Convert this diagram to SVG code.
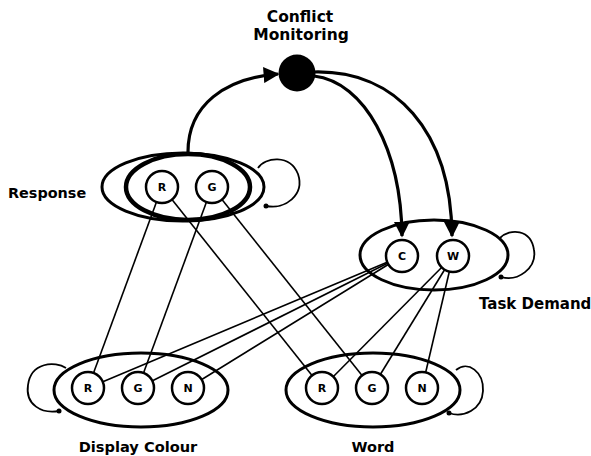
<svg xmlns="http://www.w3.org/2000/svg" width="591" height="456" viewBox="0 0 591 456">
<style>
.lbl{font-family:"DejaVu Sans",sans-serif;font-weight:bold;fill:#000}
.u{font-family:"DejaVu Sans",sans-serif;font-weight:bold;font-size:11px;fill:#000;text-anchor:middle}
.ell{fill:none;stroke:#000;stroke-width:3}
.unit{fill:#fff;stroke:#000;stroke-width:2.5}
.loop{fill:none;stroke:#000;stroke-width:1.8}
.ln{stroke:#000;stroke-width:1.6;fill:none}
.arr{stroke:#000;stroke-width:3.2;fill:none}
</style>
<defs>
<marker id="ah" viewBox="0 0 10 10" refX="9" refY="5" markerWidth="5" markerHeight="5" orient="auto" markerUnits="strokeWidth">
<path d="M0,0 L10,5 L0,10 z" fill="#000"/>
</marker>
</defs>
<rect width="591" height="456" fill="#fff"/>
<g id="connectors">
<line class="ln" x1="162" y1="187" x2="88" y2="388"/>
<line class="ln" x1="162" y1="187" x2="322" y2="388"/>
<line class="ln" x1="212" y1="187" x2="138" y2="388"/>
<line class="ln" x1="212" y1="187" x2="372" y2="388"/>
<line class="ln" x1="402" y1="256" x2="88" y2="388"/>
<line class="ln" x1="402" y1="256" x2="138" y2="388"/>
<line class="ln" x1="402" y1="256" x2="188" y2="388"/>
<line class="ln" x1="453" y1="256" x2="322" y2="388"/>
<line class="ln" x1="453" y1="256" x2="372" y2="388"/>
<line class="ln" x1="453" y1="256" x2="422" y2="388"/>
<path class="arr" d="M188,152 C188,105 225,78 278,74" marker-end="url(#ah)"/>
<path class="arr" d="M314,76 C365,82 401,150 402,236" marker-end="url(#ah)"/>
<path class="arr" d="M314,72 C395,70 451,130 452,236" marker-end="url(#ah)"/>
</g>
<g id="conflict">
<circle cx="297" cy="73" r="18.5" fill="#000"/>
<text class="lbl" x="300" y="22" font-size="15.5" text-anchor="middle">Conflict</text>
<text class="lbl" x="301" y="40" font-size="15.5" text-anchor="middle">Monitoring</text>
</g>
<g id="response">
<path class="loop" d="M258,168 C265,157 290,154 298,174 C305,195 285,210 266,206"/>
<circle cx="266" cy="206" r="2.5"/>
<ellipse class="ell" cx="183" cy="187" rx="81" ry="34"/>
<ellipse cx="188" cy="187" rx="62" ry="33" fill="none" stroke="#000" stroke-width="4.5"/>
<circle class="unit" cx="162" cy="187" r="16"/>
<text class="u" x="162" y="191">R</text>
<circle class="unit" cx="212" cy="187" r="16"/>
<text class="u" x="212" y="191">G</text>
<text class="lbl" x="8" y="198" font-size="14.4">Response</text>
</g>
<g id="task">
<path class="loop" d="M500,238 C510,228 531,229 534,250 C537,268 518,282 501,277"/>
<circle cx="501" cy="277" r="2.5"/>
<ellipse class="ell" cx="434" cy="255" rx="74" ry="35"/>
<circle class="unit" cx="402" cy="256" r="16"/>
<text class="u" x="402" y="260">C</text>
<circle class="unit" cx="453" cy="256" r="16"/>
<text class="u" x="453" y="260">W</text>
<text class="lbl" x="479" y="309" font-size="15">Task Demand</text>
</g>
<g id="display">
<path class="loop" d="M66,368 C55,361 31,362 28,385 C25,405 42,414 59,411"/>
<circle cx="59" cy="411" r="2.5"/>
<ellipse class="ell" cx="141" cy="390" rx="87" ry="37"/>
<circle class="unit" cx="88" cy="388" r="16"/>
<text class="u" x="88" y="392">R</text>
<circle class="unit" cx="138" cy="388" r="16"/>
<text class="u" x="138" y="392">G</text>
<circle class="unit" cx="188" cy="388" r="16"/>
<text class="u" x="188" y="392">N</text>
<text class="lbl" x="138" y="452" font-size="14.6" text-anchor="middle">Display Colour</text>
</g>
<g id="word">
<path class="loop" d="M456,370 C468,360 484,372 483,391 C482,410 463,418 449,413"/>
<circle cx="449" cy="413" r="2.5"/>
<ellipse class="ell" cx="373" cy="390" rx="87" ry="37"/>
<circle class="unit" cx="322" cy="388" r="16"/>
<text class="u" x="322" y="392">R</text>
<circle class="unit" cx="372" cy="388" r="16"/>
<text class="u" x="372" y="392">G</text>
<circle class="unit" cx="422" cy="388" r="16"/>
<text class="u" x="422" y="392">N</text>
<text class="lbl" x="373" y="452" font-size="14.5" text-anchor="middle">Word</text>
</g>
</svg>
